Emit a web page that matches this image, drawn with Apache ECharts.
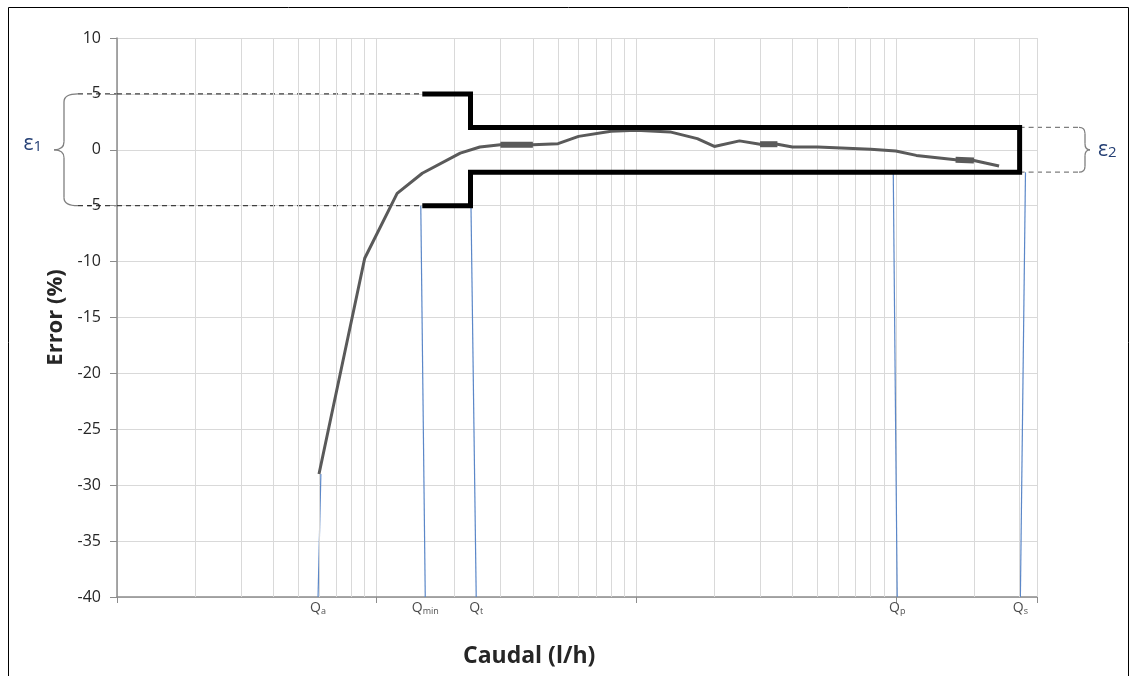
<!DOCTYPE html>
<html>
<head>
<meta charset="utf-8">
<title>Error vs Caudal</title>
<script src="https://cdn.jsdelivr.net/npm/echarts@6/dist/echarts.min.js"></script>
<style>
    html, body { margin: 0; padding: 0; background: #fff; }
    #main { width: 1133px; height: 676px; }
</style>
</head>
<body>
<div id="main"></div>
<script>
// curva de error medida
var flowX = [6, 9, 12, 15, 21, 25, 30, 40, 50, 60, 80, 100, 135, 172, 200, 250, 300, 350, 400, 500, 800, 1000, 1200, 1700, 2000, 2500];
var errY = [-29, -9.7, -3.9, -2.1, -0.3, 0.25, 0.45, 0.45, 0.55, 1.2, 1.65, 1.75, 1.6, 1.0, 0.3, 0.8, 0.5, 0.5, 0.25, 0.25, 0.05, -0.1, -0.5, -0.9, -0.95, -1.45];
// tramos mas gruesos de la curva (indices de inicio y fin)
var thickIdx = [[6, 7], [16, 17], [23, 24]];

// caudales caracteristicos
var qNames = ['a', 'min', 't', 'p', 's'];
var qBottom = [5.95, 15.4, 24.2, 1013, 3020];
var qTop = [6.1, 14.8, 23.1, 978, 3160];
var qTopY = [-29, -5, -5, -2, -2];

// limites de error maximo admisible
var boxX = [15, 23, 23, 3000, 3000, 23, 23, 15];
var boxY = [5, 5, 2, 2, -2, -2, -5, -5];
var eps1 = [5, -5];
var eps1X = [1, 15];
var eps2 = [2, -2];
var eps2X = [3000, 3500];

var yTicks = [-40, 10, 5];
var gridX = [2, 3, 4, 5, 6, 7, 8, 9, 20, 30, 40, 50, 60, 70, 80, 90, 200, 300, 400, 500, 600, 700, 800, 900, 2000, 3000, 3500];

var FONT = 'Open Sans';
var chart = echarts.init(document.getElementById('main'));

var series = [];

/*lineas de la rejilla secundaria (log)*/
series.push({
    type: 'line',
    data: [[1, -40]],
    showSymbol: false,
    lineStyle: {opacity: 0},
    z: 1,
    silent: true,
    markLine: {
        silent: true,
        symbol: 'none',
        label: {show: false},
        lineStyle: {color: '#d9d9d9', width: 1, type: 'solid'},
        data: gridX.map(function (v) { return {xAxis: v}; })
    }
});

// lineas azules de los caudales
for (var i = 0; i < qNames.length; i++) {
    series.push({
        type: 'line',
        data: [[qBottom[i], -40], [qTop[i], qTopY[i]]],
        showSymbol: false,
        lineStyle: {color: '#5b87c8', width: 1.2},
        z: 2,
        silent: true
    });
}

// lineas discontinuas
eps1.forEach(function (y) {
    series.push({
        type: 'line',
        data: [[eps1X[0], y], [eps1X[1], y]],
        showSymbol: false,
        lineStyle: {color: '#404040', width: 1.3, type: [5, 4]},
        z: 3,
        silent: true
    });
});
eps2.forEach(function (y) {
    series.push({
        type: 'line',
        data: [[eps2X[0], y], [eps2X[1], y]],
        showSymbol: false,
        lineStyle: {color: '#7f7f7f', width: 1.3, type: [5, 4]},
        z: 3,
        silent: true
    });
});

// curva
series.push({
    name: 'Error',
    type: 'line',
    data: flowX.map(function (x, k) { return [x, errY[k]]; }),
    showSymbol: false,
    lineStyle: {color: '#5a5a5a', width: 3},
    z: 5
});
thickIdx.forEach(function (p) {
    series.push({
        type: 'line',
        data: [[flowX[p[0]], errY[p[0]]], [flowX[p[1]], errY[p[1]]]],
        showSymbol: false,
        lineStyle: {color: '#5a5a5a', width: 6, cap: 'butt'},
        z: 5,
        silent: true
    });
});

// caja de limites
series.push({
    type: 'line',
    data: boxX.map(function (x, k) { return [x, boxY[k]]; }),
    showSymbol: false,
    lineStyle: {color: '#000', width: 5, join: 'miter'},
    z: 6,
    silent: true
});

// etiquetas Q
series.push({
    type: 'scatter',
    data: qBottom.map(function (x, k) { return {value: [x, -40], sub: qNames[k]}; }),
    symbolSize: 0,
    clip: false,
    silent: true,
    label: {
        show: true,
        position: 'bottom',
        distance: 3,
        color: '#1a1a1a',
        fontFamily: FONT,
        formatter: function (p) { return '{q|Q}{s|' + p.data.sub + '}'; },
        rich: {
            q: {fontSize: 14, fontFamily: FONT, color: '#1a1a1a'},
            s: {fontSize: 9, fontFamily: FONT, color: '#1a1a1a', padding: [7, 0, 0, 0]}
        }
    },
    z: 4
});

var option = {
    animation: false,
    backgroundColor: '#fff',
    title: {
        text: 'Caudal (l/h)',
        left: 458,
        top: 640,
        textStyle: {fontFamily: FONT, fontSize: 23, fontWeight: 'bold', color: '#262626'}
    },
    grid: {left: 117, right: 96, top: 38, bottom: 79, containLabel: false},
    xAxis: {
        type: 'log',
        logBase: 10,
        min: 1,
        max: 3500,
        axisLine: {onZero: false, lineStyle: {color: '#8c8c8c', width: 1.5}},
        axisTick: {show: true, length: 6, lineStyle: {color: '#8c8c8c'}},
        axisLabel: {show: false},
        splitLine: {show: true, lineStyle: {color: '#d9d9d9', width: 1}}
    },
    yAxis: {
        type: 'value',
        min: yTicks[0],
        max: yTicks[1],
        interval: yTicks[2],
        name: 'Error (%)',
        nameLocation: 'middle',
        nameGap: 50,
        nameTextStyle: {fontFamily: FONT, fontSize: 22, fontWeight: 'bold', color: '#262626'},
        axisLine: {show: true, onZero: false, lineStyle: {color: '#8c8c8c', width: 1.5}},
        axisTick: {show: true, length: 7, lineStyle: {color: '#8c8c8c'}},
        axisLabel: {fontFamily: FONT, fontSize: 16, color: '#262626', margin: 16},
        splitLine: {show: true, lineStyle: {color: '#d9d9d9', width: 1}}
    },
    series: series
};
chart.setOption(option);

/*llaves y etiquetas epsilon*/
function px(x, y) {
    return chart.convertToPixel({gridIndex: 0}, [x, y]);
}
var braceStyle = {fill: 'none', stroke: '#7f7f7f', lineWidth: 1.3};
function brace(tipX, yTop, yBot, dir, spine, point, r) {
    var sx = tipX + dir * spine;
    var bx = tipX + dir * point;
    var mid = (yTop + yBot) / 2;
    var parts = [
        {type: 'bezierCurve', shape: {x1: tipX, y1: yTop, cpx1: sx, cpy1: yTop, x2: sx, y2: yTop + r}},
        {type: 'line', shape: {x1: sx, y1: yTop + r, x2: sx, y2: mid - r}},
        {type: 'bezierCurve', shape: {x1: sx, y1: mid - r, cpx1: sx, cpy1: mid, x2: bx, y2: mid}},
        {type: 'bezierCurve', shape: {x1: bx, y1: mid, cpx1: sx, cpy1: mid, x2: sx, y2: mid + r}},
        {type: 'line', shape: {x1: sx, y1: mid + r, x2: sx, y2: yBot - r}},
        {type: 'bezierCurve', shape: {x1: sx, y1: yBot - r, cpx1: sx, cpy1: yBot, x2: tipX, y2: yBot}}
    ];
    parts.forEach(function (p) { p.style = braceStyle; p.silent = true; });
    return parts;
}
function dash(x1, x2, y, color) {
    return {
        type: 'line',
        shape: {x1: x1, y1: y, x2: x2, y2: y},
        style: {stroke: color, lineWidth: 1.3, lineDash: [5, 4]},
        silent: true
    };
}
var a1 = px(eps1X[0], eps1[0]), b1 = px(eps1X[0], eps1[1]);
var a2 = px(eps2X[1], eps2[0]), b2 = px(eps2X[1], eps2[1]);
var tip1 = a1[0] - 39, tip2 = a2[0] + 42;
var m1 = (a1[1] + b1[1]) / 2, m2 = (a2[1] + b2[1]) / 2;

var graphics = [
    {
        type: 'rect',
        shape: {x: 8.5, y: 7.5, width: 1120, height: 700},
        style: {fill: 'none', stroke: '#000', lineWidth: 1},
        silent: true
    },
    dash(tip1, a1[0], a1[1], '#404040'),
    dash(tip1, a1[0], b1[1], '#404040'),
    dash(a2[0], tip2, a2[1], '#7f7f7f'),
    dash(a2[0], tip2, b2[1], '#7f7f7f'),
    {
        type: 'text',
        x: tip1 - 36,
        y: m1 - 6,
        style: {
            text: '{e|ε}{n|1}',
            align: 'right',
            verticalAlign: 'middle',
            rich: {
                e: {fontFamily: FONT, fontSize: 21, fill: '#243f74'},
                n: {fontFamily: FONT, fontSize: 15, fill: '#243f74', padding: [5, 0, 0, 0]}
            }
        },
        silent: true
    },
    {
        type: 'text',
        x: tip2 + 19,
        y: m2,
        style: {
            text: '{e|ε}{n|2}',
            align: 'left',
            verticalAlign: 'middle',
            rich: {
                e: {fontFamily: FONT, fontSize: 21, fill: '#243f74'},
                n: {fontFamily: FONT, fontSize: 15, fill: '#243f74', padding: [5, 0, 0, 0]}
            }
        },
        silent: true
    }
];
graphics = graphics.concat(brace(tip1, a1[1], b1[1], -1, 14, 24, 8));
graphics = graphics.concat(brace(tip2, a2[1], b2[1], 1, 6, 11, 6));

chart.setOption({graphic: graphics});
</script>
</body>
</html>
